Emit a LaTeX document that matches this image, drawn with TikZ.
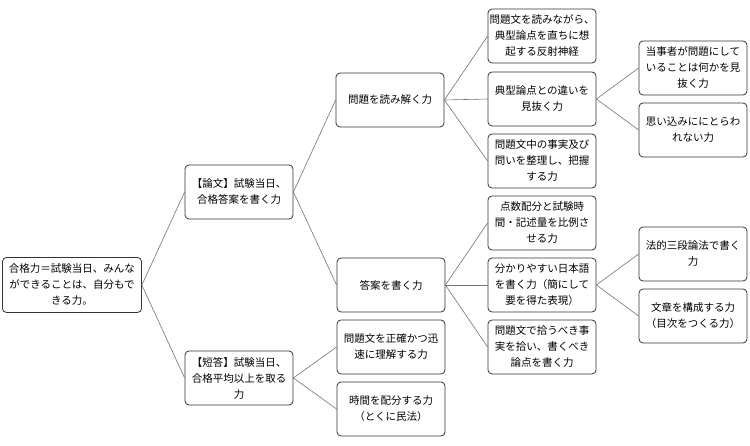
\documentclass[tikz,border=0pt]{standalone}
\usepackage{fontspec}
\setmainfont{Noto Sans CJK JP}
\usetikzlibrary{positioning}
\tikzstyle{block} = [draw=black!80, rounded corners=4pt, line width=0.8pt, minimum height=54pt, minimum width=108pt, align=center, font=\fontsize{10.5}{16}\selectfont, inner sep=1pt]
\tikzstyle{link} = [draw=black!55, line width=0.6pt]

\begin{document}
\begin{tikzpicture}[x=1pt, y=-1pt]
	\useasboundingbox (0,0) rectangle (750,446);
	\node (root) [block, minimum width=139pt, minimum height=55pt] at (72,285) {合格力＝試験当日、みんな\\ができることは、自分もで\\きる力。};
	%
	\node (ron) [block] at (239,192) {【論文】試験当日、\\合格答案を書く力};
	\node (tan) [block] at (239,378) {【短答】試験当日、\\合格平均以上を取る\\力};
	%
	\node (yomi) [block] at (390,100) {問題を読み解く力};
	\node (kaku) [block] at (391,285) {答案を書く力};
	\node (seikaku) [block] at (391,347) {問題文を正確かつ迅\\速に理解する力};
	\node (jikan) [block] at (391,409) {時間を配分する力\\（とくに民法）};
	%
	\node (hansha) [block] at (542,36) {問題文を読みながら、\\典型論点を直ちに想\\起する反射神経};
	\node (chigai) [block] at (542,99) {典型論点との違いを\\見抜く力};
	\node (seiri) [block] at (542,161) {問題文中の事実及び\\問いを整理し、把握\\する力};
	\node (haibun) [block] at (542,223) {点数配分と試験時\\間・記述量を比例さ\\せる力};
	\node (nihongo) [block] at (542,285) {分かりやすい日本語\\を書く力（簡にして\\要を得た表現）};
	\node (hiro) [block] at (542,347) {問題文で拾うべき事\\実を拾い、書くべき\\論点を書く力};
	%
	\node (tojisha) [block] at (693,68) {当事者が問題にして\\いることは何かを見\\抜く力};
	\node (omoi) [block] at (693,130) {思い込みににとらわ\\れない力};
	\node (sandan) [block] at (693,254) {法的三段論法で書く\\力};
	\node (kosei) [block] at (693,316) {文章を構成する力\\（目次をつくる力）};
	%
	\draw [link] (root.east) -- (ron.west);
	\draw [link] (root.east) -- (tan.west);
	%
	\draw [link] (ron.east) -- (yomi.west);
	\draw [link] (ron.east) -- (kaku.west);
	\draw [link] (tan.east) -- (seikaku.west);
	\draw [link] (tan.east) -- (jikan.west);
	%
	\draw [link] (yomi.east) -- (hansha.west);
	\draw [link] (yomi.east) -- (chigai.west);
	\draw [link] (yomi.east) -- (seiri.west);
	\draw [link] (kaku.east) -- (haibun.west);
	\draw [link] (kaku.east) -- (nihongo.west);
	\draw [link] (kaku.east) -- (hiro.west);
	%
	\draw [link] (chigai.east) -- (tojisha.west);
	\draw [link] (chigai.east) -- (omoi.west);
	\draw [link] (nihongo.east) -- (sandan.west);
	\draw [link] (nihongo.east) -- (kosei.west);
\end{tikzpicture}
\end{document}
